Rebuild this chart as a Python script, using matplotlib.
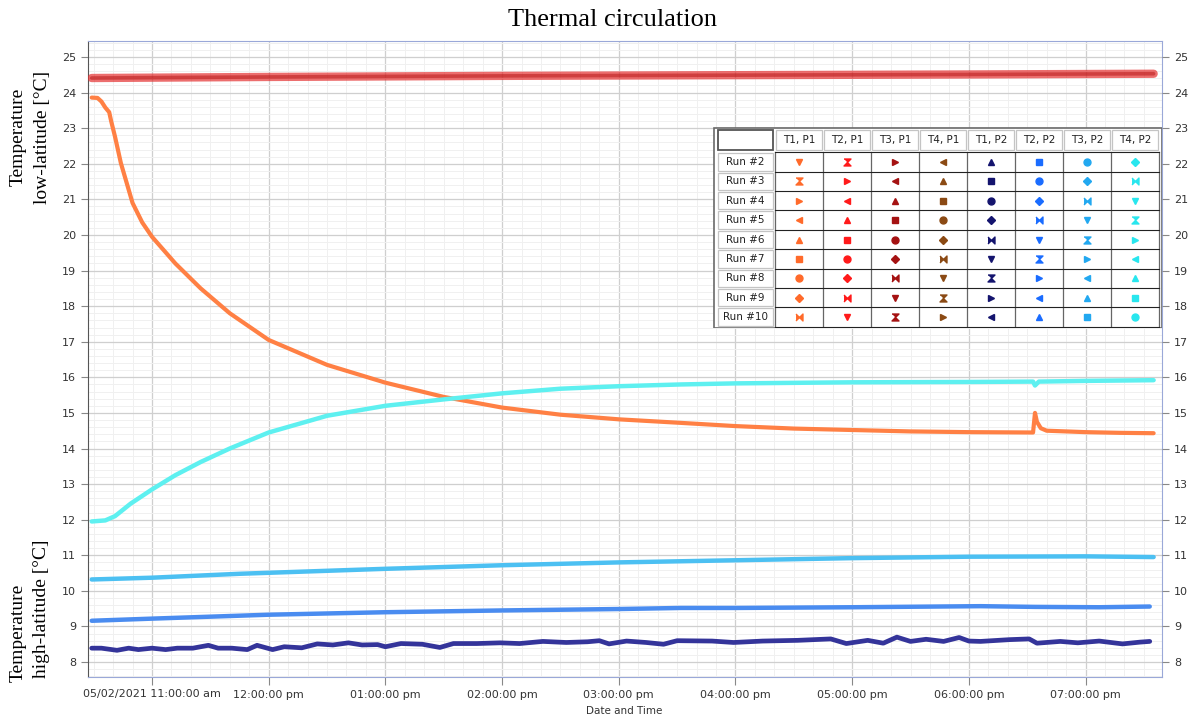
import numpy as np
import pandas as pd
import matplotlib
matplotlib.use("Agg")
import matplotlib.pyplot as plt
import matplotlib.dates as mdates
from matplotlib.patches import Rectangle
from matplotlib.ticker import MultipleLocator

DAY = "2021-05-02"

# sensor readings, temperature in degC
red_t = ["10:29", "12:00", "14:00", "16:00", "18:00", "19:35"]
red_v = [24.41, 24.44, 24.47, 24.49, 24.51, 24.53]

orange_t = ["10:29", "10:32", "10:34", "10:36", "10:38", "10:39", "10:41", "10:44",
            "10:47", "10:50", "10:55", "11:00", "11:12", "11:25", "11:40", "12:00",
            "12:30", "13:00", "13:30", "14:00", "14:30", "15:00", "15:32", "16:00",
            "16:30", "17:00", "17:30", "18:00", "18:33", "18:34", "18:35", "18:37",
            "18:40", "19:00", "19:18", "19:35"]
orange_v = [23.86, 23.85, 23.75, 23.58, 23.45, 23.2, 22.76, 22.02,
            21.46, 20.9, 20.35, 19.95, 19.2, 18.5, 17.8, 17.05,
            16.35, 15.85, 15.45, 15.15, 14.95, 14.82, 14.72, 14.63,
            14.56, 14.52, 14.48, 14.46, 14.45, 15.0, 14.75, 14.57,
            14.5, 14.46, 14.44, 14.43]

cyan_t = ["10:29", "10:36", "10:41", "10:49", "11:00", "11:12", "11:25", "11:40",
          "12:00", "12:30", "13:00", "13:30", "14:00", "14:30", "15:00", "15:32",
          "16:00", "17:00", "18:00", "18:33", "18:34", "18:36", "19:00", "19:35"]
cyan_v = [11.95, 11.98, 12.1, 12.45, 12.85, 13.25, 13.62, 14.0,
          14.45, 14.92, 15.2, 15.38, 15.55, 15.68, 15.75, 15.8,
          15.83, 15.86, 15.87, 15.88, 15.77, 15.88, 15.9, 15.92]

lblue_t = ["10:29", "11:00", "11:45", "13:00", "14:00", "15:00", "16:00", "17:00",
           "18:00", "19:00", "19:35"]
lblue_v = [10.32, 10.37, 10.48, 10.62, 10.72, 10.8, 10.86, 10.92, 10.96, 10.97, 10.95]

blue_t = ["10:29", "11:00", "12:00", "13:00", "14:00", "15:00", "15:32", "16:00",
          "17:00", "18:06", "18:34", "19:07", "19:33"]
blue_v = [9.16, 9.22, 9.33, 9.40, 9.45, 9.49, 9.52, 9.52, 9.54, 9.57, 9.55, 9.54, 9.56]

navy_t = ["10:29", "10:34", "10:42", "10:48", "10:53", "11:00", "11:07", "11:13",
          "11:21", "11:29", "11:34", "11:41", "11:49", "11:54", "12:02", "12:08",
          "12:17", "12:25", "12:33", "12:41", "12:48", "12:56", "13:00", "13:08",
          "13:19", "13:28", "13:35", "13:47", "13:59", "14:09", "14:21", "14:33",
          "14:44", "14:50", "14:55", "15:04", "15:14", "15:23", "15:30", "15:48",
          "15:59", "16:14", "16:32", "16:49", "16:57", "17:08", "17:16", "17:23",
          "17:30", "17:38", "17:47", "17:55", "18:00", "18:06", "18:21", "18:31",
          "18:35", "18:47", "18:56", "19:07", "19:19", "19:28", "19:33"]
navy_v = [8.39, 8.39, 8.33, 8.39, 8.35, 8.39, 8.35, 8.39,
          8.39, 8.47, 8.39, 8.39, 8.35, 8.47, 8.35, 8.43,
          8.40, 8.51, 8.48, 8.54, 8.48, 8.49, 8.43, 8.52,
          8.50, 8.41, 8.52, 8.52, 8.54, 8.52, 8.58, 8.55,
          8.57, 8.60, 8.51, 8.59, 8.55, 8.50, 8.60, 8.59,
          8.55, 8.59, 8.61, 8.65, 8.52, 8.61, 8.53, 8.70,
          8.58, 8.64, 8.58, 8.69, 8.59, 8.58, 8.63, 8.65,
          8.53, 8.58, 8.54, 8.59, 8.51, 8.56, 8.58]

# legend table
col_labels = ["T1, P1", "T2, P1", "T3, P1", "T4, P1", "T1, P2", "T2, P2", "T3, P2", "T4, P2"]
col_colors = ["#ff6a2a", "#ff1a1a", "#a51212", "#8b4a14", "#14146e", "#1a6cff", "#22a8f0", "#28e6ee"]
row_labels = ["Run #2", "Run #3", "Run #4", "Run #5", "Run #6", "Run #7", "Run #8", "Run #9", "Run #10"]

hourglass = [(-1, 1), (1, 1), (0, 0), (1, -1), (-1, -1), (0, 0)]
bowtie = [(-1, 1), (0, 0), (1, 1), (1, -1), (0, 0), (-1, -1)]
shape_cycle = ["v", hourglass, ">", "<", "^", "s", "o", "D", bowtie]


def stamps(times):
    return pd.to_datetime([f"{DAY} {t}" for t in times])


W, H = 1188, 718
fig = plt.figure(figsize=(W / 100, H / 100), dpi=100)
ax = fig.add_axes([88 / W, 1 - 677 / H, (1162 - 88) / W, (677 - 41) / H])

series = [
    (red_t, red_v, "#e43030", 6.0, 0.7),
    (red_t, red_v, "#b81a1a", 2.6, 0.55),
    (orange_t, orange_v, "#ff8044", 3.0, 1.0),
    (cyan_t, cyan_v, "#5ef0f0", 3.2, 1.0),
    (lblue_t, lblue_v, "#4cc0f2", 3.2, 1.0),
    (blue_t, blue_v, "#4a8cf0", 3.2, 1.0),
    (navy_t, navy_v, "#34349a", 3.4, 1.0),
]
for t, v, c, lw, a in series:
    ax.plot(stamps(t), v, color=c, lw=lw, alpha=a, solid_capstyle="round",
            solid_joinstyle="round", zorder=3)

ax.set_xlim(pd.Timestamp(f"{DAY} 10:27:06"), pd.Timestamp(f"{DAY} 19:39:18"))
ax.set_ylim(7.58, 25.45)

ticks = pd.date_range(f"{DAY} 11:00", periods=9, freq="h")
labels = []
for i, d in enumerate(ticks):
    s = d.strftime("%I:%M:%S ") + ("am" if d.hour < 12 else "pm")
    if i == 0:
        s = d.strftime("%m/%d/%Y ") + s
    labels.append(s)
ax.set_xticks(mdates.date2num(ticks), labels)
ax.xaxis.set_minor_locator(mdates.MinuteLocator(byminute=[0, 10, 20, 30, 40, 50]))
ax.set_yticks(range(8, 26))
ax.yaxis.set_minor_locator(MultipleLocator(0.2))

ax.grid(True, which="major", color="#cfcfcf", lw=0.9)
ax.grid(True, which="minor", color="#f0f0f0", lw=0.7)
ax.set_axisbelow(True)
ax.tick_params(which="major", labelsize=8, labelcolor="#333333", color="#888888", length=5)
ax.tick_params(which="minor", length=0)
ax.tick_params(axis="x", length=6, pad=3)

for side in ["top", "right", "bottom"]:
    ax.spines[side].set_color("#9aa8d8")
ax.spines["left"].set_color("#555555")

ax2 = ax.twinx()
ax2.set_ylim(ax.get_ylim())
ax2.set_yticks(range(8, 26))
ax2.tick_params(labelsize=8, labelcolor="#333333", color="#888888", length=5)
for s in ax2.spines.values():
    s.set_visible(False)

fig.text(624 / W, 1 - 711 / H, "Date and Time", fontsize=7.5, color="#333333",
         ha="center", va="center")

serif = "Liberation Serif"
fig.text(612 / W, 1 - 20 / H, "Thermal circulation", family=serif, fontsize=19,
         ha="center", va="center")
fig.text(18 / W, 1 - 137 / H, "Temperature", family=serif, fontsize=14,
         rotation=90, ha="center", va="center")
fig.text(42 / W, 1 - 137 / H, "low-latitude [°C]", family=serif, fontsize=14,
         rotation=90, ha="center", va="center")
fig.text(18 / W, 1 - 633 / H, "Temperature", family=serif, fontsize=14,
         rotation=90, ha="center", va="center")
fig.text(42 / W, 1 - 609 / H, "high-latitude [°C]", family=serif, fontsize=14,
         rotation=90, ha="center", va="center")

# legend table drawn in its own axes, pixel units
tx0, ty0, tx1, ty1 = 713, 127, 1162, 328
tab = fig.add_axes([tx0 / W, 1 - ty1 / H, (tx1 - tx0) / W, (ty1 - ty0) / H], zorder=5)
tab.set_xlim(tx0, tx1)
tab.set_ylim(ty1, ty0)
tab.axis("off")
tab.add_patch(Rectangle((tx0 + 0.5, ty0 + 0.5), tx1 - tx0 - 1, ty1 - ty0 - 1,
                        facecolor="white", edgecolor="#6a6a6a", lw=1.2))

cw, rh = 48.05, 19.38
cx0, hy0, hy1, ry0 = 775, 130, 150, 152.3
tab.add_patch(Rectangle((718, hy0), 55, hy1 - hy0, facecolor="white",
                        edgecolor="#555555", lw=1.3))
for j, lab in enumerate(col_labels):
    tab.add_patch(Rectangle((cx0 + j * cw + 1, hy0), cw - 2, hy1 - hy0,
                            facecolor="white", edgecolor="#c4c4c4", lw=0.9))
    tab.text(cx0 + (j + 0.5) * cw, (hy0 + hy1) / 2, lab, fontsize=7.5,
             color="#222222", ha="center", va="center")

for i, lab in enumerate(row_labels):
    top = ry0 + i * rh
    tab.add_patch(Rectangle((718, top + 1), 55, rh - 2, facecolor="white",
                            edgecolor="#c4c4c4", lw=0.9))
    tab.text(745.5, top + rh / 2, lab, fontsize=7.5, color="#222222",
             ha="center", va="center")
    for j, c in enumerate(col_colors):
        shape = shape_cycle[(i + j) % len(shape_cycle)]
        ms = 4.2 if shape in ("D", "s") else 5
        tab.plot(cx0 + (j + 0.5) * cw, top + rh / 2, marker=shape, ms=ms,
                 color=c, mec=c, ls="none")

for j in range(len(col_labels) + 1):
    tab.plot([cx0 + j * cw] * 2, [ry0, ry0 + 9 * rh], color="#666666", lw=0.9)
for i in range(len(row_labels) + 1):
    tab.plot([cx0, cx0 + 8 * cw], [ry0 + i * rh] * 2, color="#222222", lw=0.8)

fig.savefig("out.png", dpi=100)
